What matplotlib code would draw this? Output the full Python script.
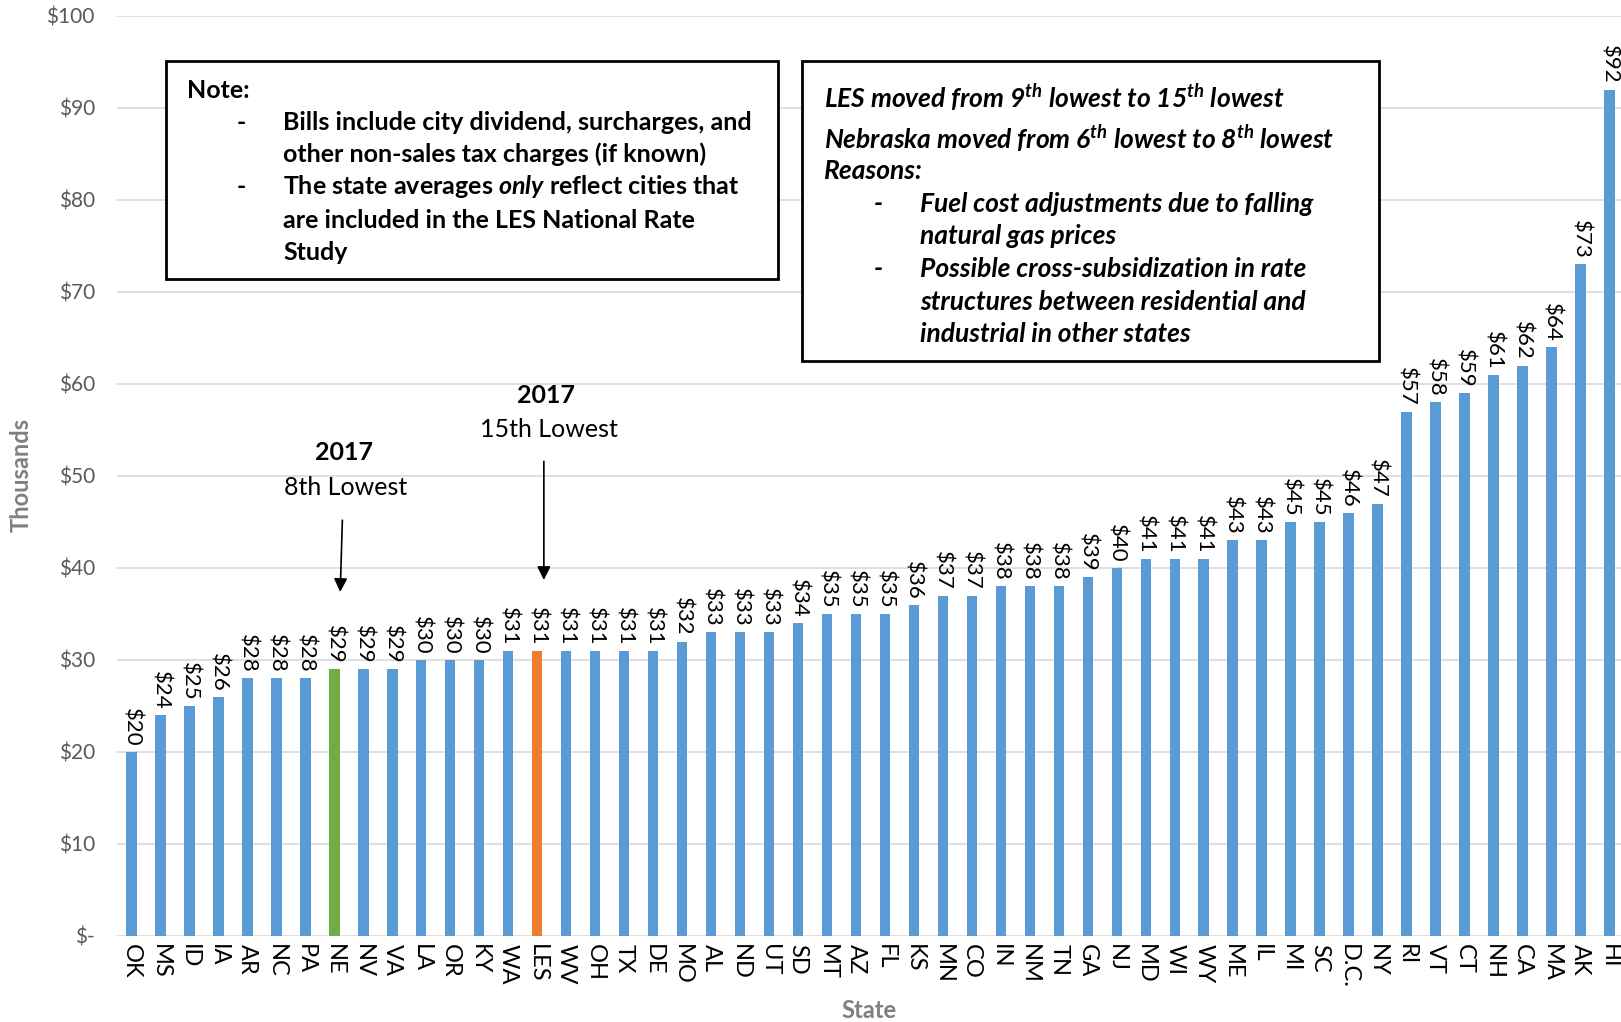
import matplotlib
matplotlib.use('Agg')
import matplotlib.pyplot as plt
from matplotlib.patches import Rectangle
from matplotlib.ticker import FuncFormatter

plt.rcParams['font.family'] = ['Lato', 'DejaVu Sans']
plt.rcParams['mathtext.fontset'] = 'custom'
plt.rcParams['mathtext.it'] = 'Lato:italic:bold'
plt.rcParams['mathtext.rm'] = 'Lato:bold'

# 数据: 各州平均账单 (千美元)
states = ['OK', 'MS', 'ID', 'IA', 'AR', 'NC', 'PA', 'NE', 'NV', 'VA', 'LA', 'OR', 'KY',
          'WA', 'LES', 'WV', 'OH', 'TX', 'DE', 'MO', 'AL', 'ND', 'UT', 'SD', 'MT', 'AZ',
          'FL', 'KS', 'MN', 'CO', 'IN', 'NM', 'TN', 'GA', 'NJ', 'MD', 'WI', 'WY', 'ME',
          'IL', 'MI', 'SC', 'D.C.', 'NY', 'RI', 'VT', 'CT', 'NH', 'CA', 'MA', 'AK', 'HI']
bills = [20, 24, 25, 26, 28, 28, 28, 29, 29, 29, 30, 30, 30,
         31, 31, 31, 31, 31, 31, 32, 33, 33, 33, 34, 35, 35,
         35, 36, 37, 37, 38, 38, 38, 39, 40, 41, 41, 41, 43,
         43, 45, 45, 46, 47, 57, 58, 59, 61, 62, 64, 73, 92]
highlight = {'NE': '#70AD47', 'LES': '#ED7D31'}

W, H = 1621, 1022
fig = plt.figure(figsize=(W / 100, H / 100), dpi=100)
ax = fig.add_axes([117 / W, 1 - 936 / H, 1 - 117 / W, (936 - 16) / H])

def fx(px):
    return px / W

def fy(py):
    return 1 - py / H

colors = [highlight.get(s, '#5B9BD5') for s in states]
x = list(range(len(states)))
bars = ax.bar(x, bills, width=0.36, color=colors, zorder=3)

for xi, v in zip(x, bills):
    ax.text(xi, v + 0.6, '$%d' % v, rotation=-90, ha='center', va='bottom',
            fontsize=16, color='#000000')

ax.set_xlim(-0.5, 51.4)
ax.set_ylim(0, 100)
ax.set_yticks(range(0, 101, 10))
ax.yaxis.set_major_formatter(FuncFormatter(lambda v, p: '$-' if v == 0 else '$%d' % v))
ax.set_xticks(x)
ax.set_xticklabels(states, rotation=-90, fontsize=17, color='#000000')
ax.tick_params(axis='y', labelsize=15, labelcolor='#595959', length=0, pad=16)
ax.tick_params(axis='x', length=0, pad=6)
ax.grid(axis='y', color='#D9D9D9', linewidth=1.2, zorder=0)
for sp in ax.spines.values():
    sp.set_visible(False)

fig.text(fx(21), fy(475), 'Thousands', rotation=90, ha='center', va='center',
         fontsize=17, fontweight='bold', color='#7F7F7F')
fig.text(fx(869), fy(1010), 'State', ha='center', va='center',
         fontsize=17, fontweight='bold', color='#7F7F7F')

# 箭头标注
ax.annotate('', xy=(7.2, 37.1), xytext=(7.28, 45.5),
            arrowprops=dict(arrowstyle='-|>', color='black', lw=1.2, mutation_scale=20))
ax.text(7.35, 52.5, '2017', ha='center', va='center', fontsize=18, fontweight='bold')
ax.text(7.4, 48.8, '8th Lowest', ha='center', va='center', fontsize=18)
ax.annotate('', xy=(14.23, 38.4), xytext=(14.23, 51.9),
            arrowprops=dict(arrowstyle='-|>', color='black', lw=1.2, mutation_scale=20))
ax.text(14.3, 58.7, '2017', ha='center', va='center', fontsize=18, fontweight='bold')
ax.text(14.4, 55.1, '15th Lowest', ha='center', va='center', fontsize=18)

# 左侧说明框
fig.patches.append(Rectangle((fx(166), fy(279)), (778 - 166) / W, (279 - 61) / H,
                             transform=fig.transFigure, fill=True, facecolor='white',
                             edgecolor='black', linewidth=2, zorder=5))
fs = 18
fig.text(fx(187), fy(90), 'Note:', fontsize=fs, fontweight='bold', va='center', zorder=6)
note_lines = [(123, '-', 'Bills include city dividend, surcharges, and'),
              (154, '', 'other non-sales tax charges (if known)'),
              (187, '-', r'The state averages $\mathit{only}$ reflect cities that'),
              (220, '', 'are included in the LES National Rate'),
              (253, '', 'Study')]
for py, dash, txt in note_lines:
    if dash:
        fig.text(fx(237), fy(py), dash, fontsize=fs, fontweight='bold', va='center', zorder=6)
    fig.text(fx(283), fy(py), txt, fontsize=fs, fontweight='bold', va='center', zorder=6)

# 右侧说明框
fig.patches.append(Rectangle((fx(802), fy(361)), (1379 - 802) / W, (361 - 61) / H,
                             transform=fig.transFigure, fill=True, facecolor='white',
                             edgecolor='black', linewidth=2, zorder=5))
it = dict(fontsize=19, fontweight='bold', fontstyle='italic', va='center', zorder=6)
fig.text(fx(824), fy(98), r'LES moved from 9$^{\mathit{th}}$ lowest to 15$^{\mathit{th}}$ lowest', **it)
fig.text(fx(824), fy(139), r'Nebraska moved from 6$^{\mathit{th}}$ lowest to 8$^{\mathit{th}}$ lowest', **it)
fig.text(fx(824), fy(171), 'Reasons:', **it)
reason_lines = [(204, '-', 'Fuel cost adjustments due to falling'),
                (236, '', 'natural gas prices'),
                (269, '-', 'Possible cross-subsidization in rate'),
                (302, '', 'structures between residential and'),
                (334, '', 'industrial in other states')]
for py, dash, txt in reason_lines:
    if dash:
        fig.text(fx(874), fy(py), dash, **it)
    fig.text(fx(920), fy(py), txt, **it)

fig.savefig('out.png', dpi=100)
